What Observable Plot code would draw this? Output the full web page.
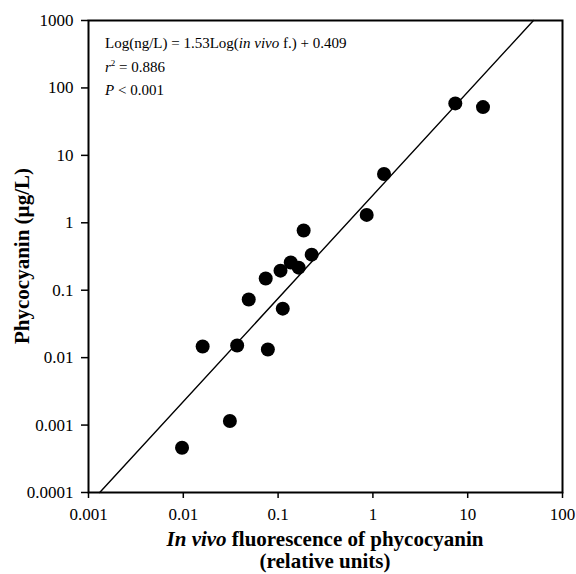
<!DOCTYPE html>
<html>
<head>
<meta charset="utf-8">
<script src="https://cdn.jsdelivr.net/npm/d3@7"></script>
<script src="https://cdn.jsdelivr.net/npm/@observablehq/plot@0.6"></script>
<style>
  html, body { margin: 0; padding: 0; background: white; }
</style>
</head>
<body>
<div id="chart"></div>
<script>
// In vivo fluorescence of phycocyanin (relative units)
const fluorescence = [0.0097, 0.031, 0.016, 0.037, 0.078, 0.112, 0.049, 0.074, 0.106, 0.136, 0.165, 0.226, 0.186, 0.86, 1.31, 7.4, 14.5];
// Phycocyanin (µg/L)
const phycocyanin  = [0.00046, 0.00115, 0.0146, 0.0151, 0.0132, 0.0533, 0.073, 0.149, 0.195, 0.257, 0.216, 0.337, 0.77, 1.31, 5.3, 59, 52];

const xTicks = [0.001, 0.01, 0.1, 1, 10, 100];
const yTicks = [0.0001, 0.001, 0.01, 0.1, 1, 10, 100, 1000];
const xDomain = [0.001, 100];
const yDomain = [0.0001, 1000];

// Regression: Log(y) = 1.53 Log(x) + 0.409
const fitSlope = 1.53;
const fitIntercept = 0.409;

const points = fluorescence.map((x, i) => ({x, y: phycocyanin[i]}));
const lx0 = (Math.log10(yDomain[0]) - fitIntercept) / fitSlope;
const lx1 = (Math.log10(yDomain[1]) - fitIntercept) / fitSlope;
const fitLine = [lx0, lx1].map(lx => ({x: 10 ** lx, y: 10 ** (fitSlope * lx + fitIntercept)}));

const fmt = d => String(d);
const W = 576, H = 574;
const mL = 88, mR = 14, mT = 20, mB = 82;

const plot = Plot.plot({
  width: W, height: H,
  marginLeft: mL, marginRight: mR, marginTop: mT, marginBottom: mB,
  style: {fontFamily: "'Liberation Serif', 'Times New Roman', serif", fontSize: "17px", color: "black", background: "white"},
  x: {type: "log", domain: xDomain},
  y: {type: "log", domain: yDomain},
  marks: [
    Plot.axisX({ticks: xTicks, tickFormat: fmt, tickSize: 6, tickPadding: 9, label: null, strokeWidth: 1.5}),
    Plot.axisY({ticks: yTicks, tickFormat: fmt, tickSize: 7, tickPadding: 8, label: null, strokeWidth: 1.5}),
    Plot.line(fitLine, {x: "x", y: "y", stroke: "black", strokeWidth: 1.4}),
    Plot.dot(points, {x: "x", y: "y", r: 7, fill: "black", stroke: "none"}),
    Plot.frame({stroke: "black", strokeWidth: 2})
  ]
});

document.getElementById("chart").appendChild(plot);

const svg = d3.select(plot);
const serif = "'Liberation Serif', 'Times New Roman', serif";

// Annotation (equation)
const ann = svg.append("g").attr("font-family", serif).attr("font-size", 15)
  .attr("fill", "black").attr("text-anchor", "start");
const t1 = ann.append("text").attr("x", mL + 17).attr("y", 48);
t1.append("tspan").text("Log(ng/L) = 1.53Log(");
t1.append("tspan").attr("font-style", "italic").text("in vivo");
t1.append("tspan").text(" f.) + 0.409");
const t2 = ann.append("text").attr("x", mL + 17).attr("y", 72);
t2.append("tspan").attr("font-style", "italic").text("r");
t2.append("tspan").attr("font-size", 9).attr("dy", -6).text("2");
t2.append("tspan").attr("dy", 6).text(" = 0.886");
const t3 = ann.append("text").attr("x", mL + 17).attr("y", 95);
t3.append("tspan").attr("font-style", "italic").text("P");
t3.append("tspan").text(" < 0.001");

// X axis title
const cx = mL + (W - mL - mR) / 2;
const xt = svg.append("g").attr("font-family", serif).attr("font-size", 21)
  .attr("font-weight", "bold").attr("text-anchor", "middle").attr("fill", "black");
const xl1 = xt.append("text").attr("x", cx).attr("y", 546);
xl1.append("tspan").attr("font-style", "italic").text("In vivo");
xl1.append("tspan").text(" fluorescence of phycocyanin");
xt.append("text").attr("x", cx).attr("y", 568).text("(relative units)");

// Y axis title
const cy = mT + (H - mT - mB) / 2;
svg.append("text")
  .attr("font-family", serif).attr("font-size", 21).attr("font-weight", "bold")
  .attr("text-anchor", "middle").attr("fill", "black")
  .attr("transform", `translate(29,${cy}) rotate(-90)`)
  .text("Phycocyanin (µg/L)");
</script>
</body>
</html>
